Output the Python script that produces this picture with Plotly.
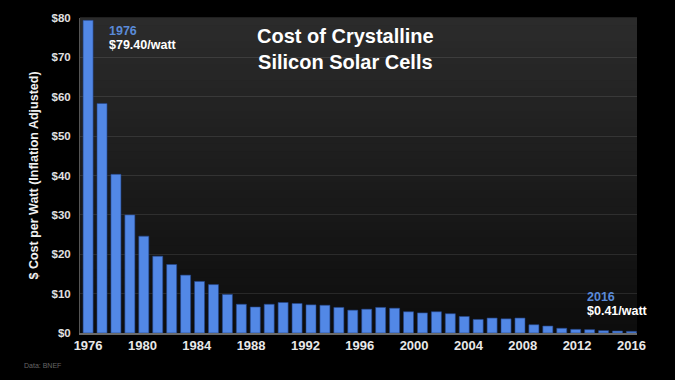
import numpy as np
import plotly.graph_objects as go

# Cost per watt ($, inflation adjusted), one bar per reported point, first = 1976, last = 2016
costs = [79.4, 58.3, 40.3, 30.0, 24.6, 19.5, 17.4, 14.7, 13.1, 12.3,
         9.8, 7.3, 6.6, 7.3, 7.75, 7.5, 7.15, 7.05, 6.5, 5.8,
         6.05, 6.5, 6.3, 5.4, 5.1, 5.4, 4.9, 4.2, 3.45, 3.8,
         3.6, 3.8, 2.1, 1.77, 1.2, 0.93, 0.85, 0.6, 0.5, 0.41]
tick_labels = ["1976", "1980", "1984", "1988", "1992", "1996",
               "2000", "2004", "2008", "2012", "2016"]
y_ticks = [0, 10, 20, 30, 40, 50, 60, 70, 80]
y_tick_labels = ["$" + str(v) for v in y_ticks]

x_pos = list(range(len(costs)))
tick_pos = list(np.linspace(0, len(costs) - 1, len(tick_labels)))

FONT = "Liberation Sans, Arial, sans-serif"

fig = go.Figure()
fig.add_trace(go.Bar(
    x=x_pos, y=costs, width=0.72,
    marker=dict(color="#5288e6", line=dict(width=0.6, color="#24448a")),
    hoverinfo="skip",
))

# plot-area vertical gradient (dark gray at top to near-black at bottom)
shapes = []
n = 40
top = np.array([44, 44, 44])
bot = np.array([13, 13, 13])
for i in range(n):
    c = top + (bot - top) * (i + 0.5) / n
    shapes.append(dict(
        type="rect", xref="x domain", yref="y domain",
        x0=0, x1=1, y0=1 - (i + 1) / n, y1=1 - i / n + 0.002,
        fillcolor="rgb(%d,%d,%d)" % tuple(c.astype(int)),
        line=dict(width=0), layer="below",
    ))

fig.update_layout(
    width=675, height=380,
    paper_bgcolor="#000000", plot_bgcolor="#1c1c1c",
    margin=dict(l=80, r=38, t=16, b=47),
    showlegend=False,
    shapes=shapes,
    font=dict(family=FONT, color="#e6e6e6"),
    xaxis=dict(
        range=[-0.58, len(costs) - 0.6],
        tickvals=tick_pos, ticktext=tick_labels,
        showgrid=False, zeroline=False,
        showline=True, linecolor="#6a6a6a", linewidth=1.5,
        ticks="", tickfont=dict(size=13, color="#e8e8e8", weight="bold"),
        fixedrange=True,
    ),
    yaxis=dict(
        range=[0, 80], tickvals=y_ticks, ticktext=y_tick_labels,
        showgrid=True, gridcolor="rgba(255,255,255,0.10)", gridwidth=1,
        zeroline=False, showline=True, linecolor="#555555", linewidth=1,
        ticks="", ticklabelstandoff=6,
        tickfont=dict(size=11.5, color="#e0e0e0", weight="bold"),
        title=dict(text="$ Cost per Watt (Inflation Adjusted)", standoff=10,
                   font=dict(size=12.5, color="#f0f0f0", weight="bold")),
        fixedrange=True,
    ),
    annotations=[
        dict(text="Cost of Crystalline<br>Silicon Solar Cells",
             xref="paper", yref="paper", x=0.476, y=0.985,
             xanchor="center", yanchor="top", showarrow=False,
             font=dict(size=20, color="#ffffff", weight="bold")),
        dict(text="1976", xref="paper", yref="paper", x=0.048, y=0.986,
             xanchor="left", yanchor="top", showarrow=False,
             font=dict(size=12.5, color="#5a8ad8", weight="bold")),
        dict(text="$79.40/watt", xref="paper", yref="paper", x=0.048, y=0.942,
             xanchor="left", yanchor="top", showarrow=False,
             font=dict(size=12.5, color="#ffffff", weight="bold")),
        dict(text="2016", xref="paper", yref="paper", x=0.906, y=0.142,
             xanchor="left", yanchor="top", showarrow=False,
             font=dict(size=12.5, color="#5a8ad8", weight="bold")),
        dict(text="$0.41/watt", xref="paper", yref="paper", x=0.906, y=0.097,
             xanchor="left", yanchor="top", showarrow=False,
             font=dict(size=12.5, color="#ffffff", weight="bold")),
        dict(text="Data: BNEF", xref="paper", yref="paper", x=-0.105, y=-0.085,
             xanchor="left", yanchor="top", showarrow=False,
             font=dict(size=7, color="#666666")),
    ],
)

fig.write_html(
    "out.html",
    config={"displayModeBar": False, "staticPlot": True},
    post_script="document.body.style.margin='0';document.body.style.background='#000';",
)
